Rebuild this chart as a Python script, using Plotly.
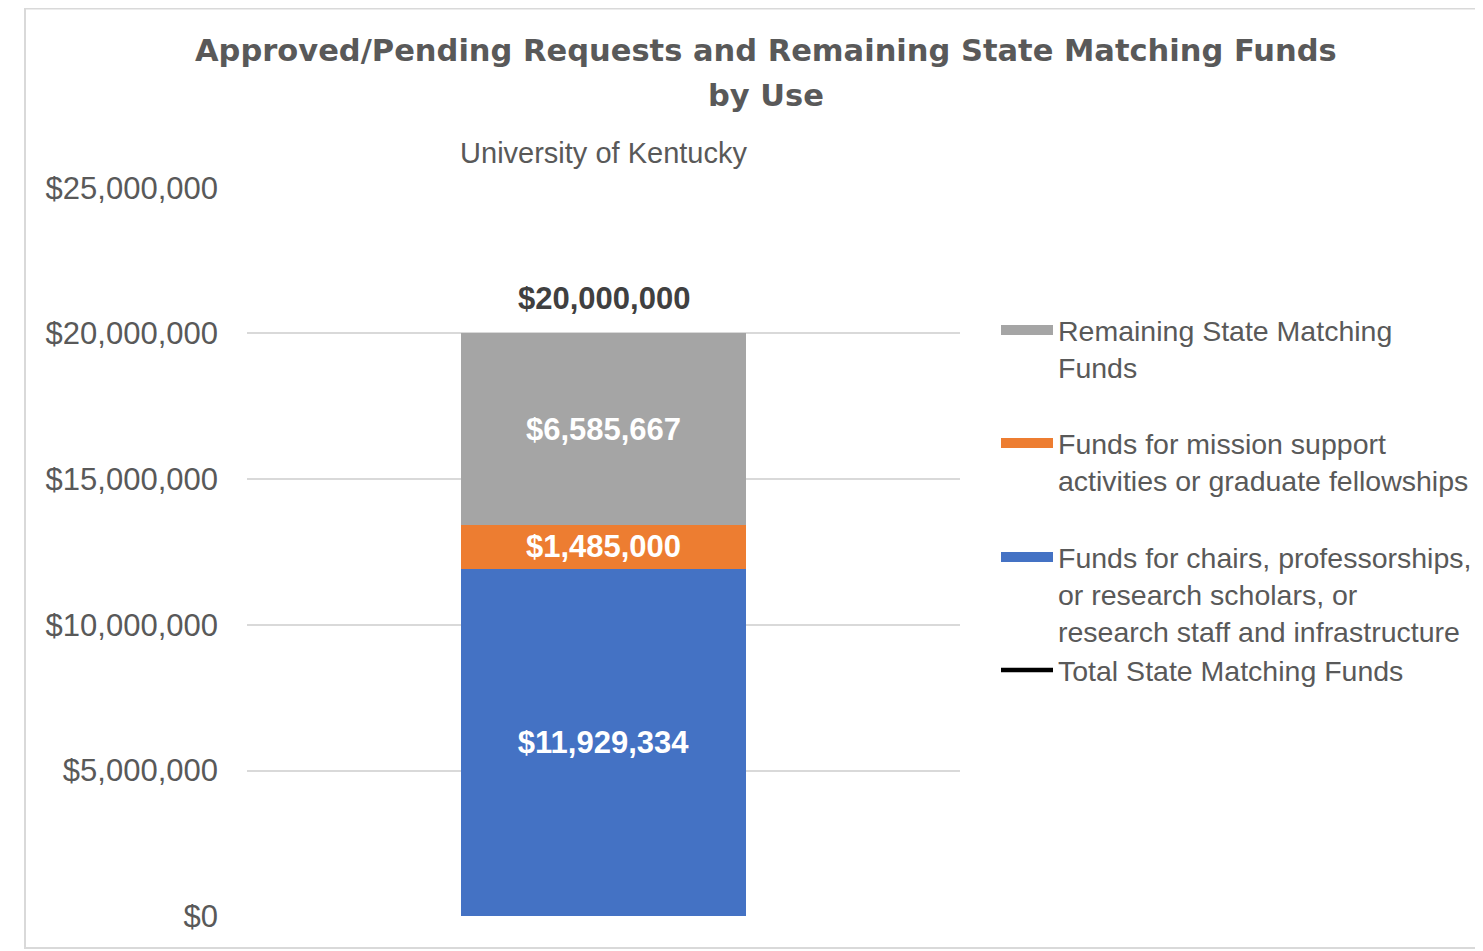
import plotly.graph_objects as go

# ---- data ----
categories = ["University of Kentucky"]
chairs = [11929334]
mission = [1485000]
remaining = [6585667]
total = [20000000]
y_ticks = [0, 5000000, 10000000, 15000000, 20000000, 25000000]
y_tick_labels = ["$0", "$5,000,000", "$10,000,000", "$15,000,000", "$20,000,000", "$25,000,000"]

series_names = [
    "Remaining State Matching<br>Funds",
    "Funds for mission support<br>activities or graduate fellowships",
    "Funds for chairs, professorships,<br>or research scholars, or<br>research staff and infrastructure",
    "Total State Matching Funds",
]
colors = {"chairs": "#4472C4", "mission": "#ED7D31", "remaining": "#A5A5A5"}

OFF = 8  # default page body margin
W, H = 1483 - OFF, 951 - OFF
L, R, T, B = 247, 960, 187, 917  # plot area in page px


def px_x(x):
    return (x - L) / (R - L)


def px_y(y):
    return (B - y) / (B - T)


TXT = "#595959"
FONT = "Liberation Sans, Arial, sans-serif"

fig = go.Figure()


def fmt(v):
    return "${:,.0f}".format(v)


for vals, col in [(chairs, colors["chairs"]), (mission, colors["mission"]), (remaining, colors["remaining"])]:
    fig.add_trace(go.Bar(
        x=categories, y=vals, marker=dict(color=col, line=dict(width=0)),
        text=[fmt(v) for v in vals], textposition="inside", insidetextanchor="middle",
        constraintext="none", textangle=0,
        textfont=dict(family=FONT, size=31, color="white", weight="bold"),
        showlegend=False, width=0.4,
    ))

# legend-only entries
legend_specs = [
    (series_names[0], colors["remaining"], 14, "legend"),
    (series_names[1], colors["mission"], 14, "legend2"),
    (series_names[2], colors["chairs"], 14, "legend3"),
]
for name, col, w, lg in legend_specs:
    fig.add_trace(go.Scatter(x=[None], y=[None], mode="lines", name=name,
                             line=dict(color=col, width=w), legend=lg, hoverinfo="skip"))

fig.add_trace(go.Scatter(x=categories, y=total, mode="lines", name=series_names[3],
                         line=dict(color="black", width=4.5), legend="legend4"))

fig.add_annotation(x=categories[0], y=total[0], text="<b>" + fmt(total[0]) + "</b>",
                   showarrow=False, yanchor="bottom", yshift=15,
                   font=dict(family=FONT, size=31, color="#404040"))

# title as two annotations
title_lines = ["Approved/Pending Requests and Remaining State Matching Funds", "by Use"]
for line, yc in zip(title_lines, [50, 96]):
    fig.add_annotation(xref="paper", yref="paper", x=px_x(765.5), y=px_y(yc), text="<b>" + line + "</b>",
                       showarrow=False, xanchor="center", yanchor="middle",
                       font=dict(family="DejaVu Sans", size=30.5, color=TXT))

# outer border
fig.add_shape(type="rect", xref="paper", yref="paper", x0=px_x(25), x1=px_x(1500), y0=px_y(948), y1=px_y(8.5),
              line=dict(color="#D9D9D9", width=2), layer="below")

leg_common = dict(font=dict(family=FONT, size=28.5, color=TXT), bgcolor="rgba(0,0,0,0)",
                  itemwidth=52, xanchor="left", yanchor="top", borderwidth=0, valign="top",
                  itemclick=False, itemdoubleclick=False)
leg_tops = [305, 418, 532, 645]
LEG_X = 996

eps = 25000
fig.update_layout(
    width=W, height=H, autosize=False,
    margin=dict(l=L - OFF, r=W - (R - OFF), t=T - OFF, b=H - (B - OFF), pad=0, autoexpand=False),
    plot_bgcolor="white", paper_bgcolor="white",
    barmode="stack", bargap=0.6,
    font=dict(family=FONT, color=TXT),
    xaxis=dict(side="top", range=[-0.5, 0.5], showgrid=False, showline=False, zeroline=False,
               ticks="", ticklabelstandoff=17, tickfont=dict(family=FONT, size=29, color=TXT), fixedrange=True),
    yaxis=dict(range=[-eps, 25000000 + eps], tickvals=y_ticks, ticktext=y_tick_labels,
               showgrid=True, gridcolor="#D9D9D9", gridwidth=1.5, zeroline=False, showline=False,
               ticks="", ticklabelstandoff=28, tickfont=dict(family=FONT, size=31, color=TXT), fixedrange=True),
    legend=dict(x=px_x(LEG_X), y=px_y(leg_tops[0]), **leg_common),
    legend2=dict(x=px_x(LEG_X), y=px_y(leg_tops[1]), **leg_common),
    legend3=dict(x=px_x(LEG_X), y=px_y(leg_tops[2]), **leg_common),
    legend4=dict(x=px_x(LEG_X), y=px_y(leg_tops[3]), **leg_common),
)

fig.write_html("out.html", config={"displayModeBar": False, "responsive": False})
